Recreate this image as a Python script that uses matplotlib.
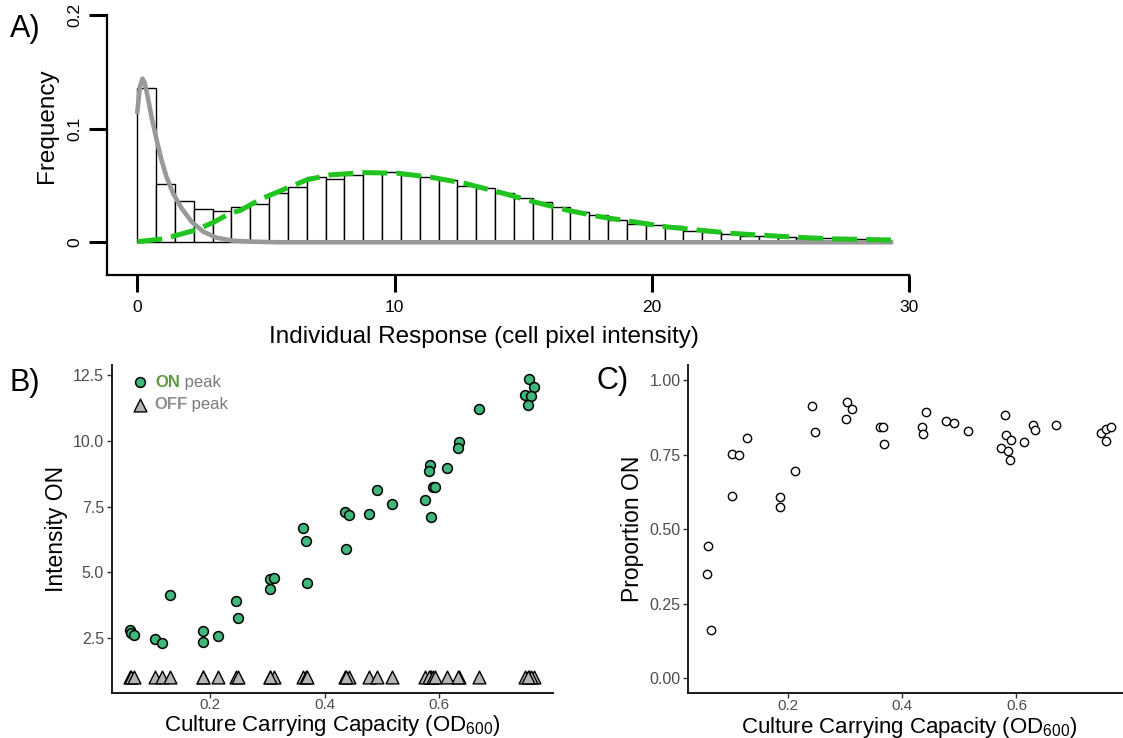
import numpy as np
import matplotlib
matplotlib.use("Agg")
import matplotlib.pyplot as plt

plt.rcParams['font.family'] = ['Liberation Sans', 'DejaVu Sans']
plt.rcParams['mathtext.fontset'] = 'custom'
plt.rcParams['mathtext.rm'] = 'Liberation Sans'
plt.rcParams['mathtext.default'] = 'regular'

# --- A) histogram of single-cell intensities with the two fitted peaks
bin_width = 0.732
freq = [0.136, 0.0513, 0.0363, 0.0295, 0.0274, 0.0307, 0.0336, 0.043, 0.049, 0.057,
        0.056, 0.059, 0.062, 0.062, 0.0593, 0.0578, 0.0549, 0.0496, 0.0475, 0.0436,
        0.0386, 0.0351, 0.031, 0.0263, 0.0239, 0.0195, 0.0159, 0.015, 0.0142, 0.0097,
        0.0091, 0.0071, 0.0058, 0.0055, 0.0042, 0.004, 0.004, 0.003, 0.0027, 0.0025]

off_fit_x = [0.0, 0.1, 0.2, 0.29, 0.42, 0.55, 0.75, 0.94, 1.13, 1.39, 1.72, 2.11,
             2.56, 3.08, 3.72, 4.5, 5.5, 29.3]
off_fit_y = [0.115, 0.137, 0.144, 0.140, 0.126, 0.1105, 0.090, 0.0724, 0.0577, 0.0431,
             0.0299, 0.0181, 0.0093, 0.004, 0.0014, 0.0005, 0.0, 0.0]

on_fit_x = [0.0, 1.0, 1.5, 2.3, 3.0, 3.6, 4.0, 4.8, 5.8, 6.6, 7.5, 8.8, 10.1, 11.4,
            12.7, 14.0, 15.4, 16.7, 18.0, 19.3, 20.6, 21.9, 23.2, 24.5, 25.8, 27.1,
            28.4, 29.3]
on_fit_y = [0.0005, 0.003, 0.006, 0.011, 0.018, 0.0255, 0.028, 0.038, 0.0475, 0.055,
            0.0593, 0.0613, 0.0608, 0.0573, 0.052, 0.0445, 0.0357, 0.0283, 0.0224,
            0.018, 0.0135, 0.0106, 0.0077, 0.0059, 0.0042, 0.003, 0.0024, 0.002]

# --- B) peak intensities vs carrying capacity
od_b = [0.060, 0.063, 0.068, 0.104, 0.117, 0.131, 0.188, 0.188, 0.214, 0.245,
        0.249, 0.304, 0.312, 0.304, 0.363, 0.367, 0.369, 0.436, 0.443, 0.437,
        0.478, 0.492, 0.517, 0.575, 0.586, 0.584, 0.583, 0.589, 0.592, 0.614,
        0.634, 0.632, 0.670, 0.757, 0.766, 0.749, 0.760, 0.755]
on_peak = [2.78, 2.66, 2.62, 2.44, 2.29, 4.14, 2.77, 2.35, 2.56, 3.89,
           3.25, 4.73, 4.77, 4.37, 6.68, 6.19, 4.58, 7.31, 7.16, 5.87,
           7.22, 8.15, 7.58, 7.76, 7.10, 9.09, 8.86, 8.24, 8.23, 8.98,
           9.96, 9.73, 11.22, 12.36, 12.06, 11.76, 11.70, 11.36]
off_peak = [1.0, 1.0, 1.0, 1.0, 1.0, 1.0, 1.0, 1.0, 1.0, 1.0,
            1.0, 1.0, 1.0, 1.0, 1.0, 1.0, 1.0, 1.0, 1.0, 1.0,
            1.0, 1.0, 1.0, 1.0, 1.0, 1.0, 1.0, 1.0, 1.0, 1.0,
            1.0, 1.0, 1.0, 1.0, 1.0, 1.0, 1.0, 1.0]

# --- C) proportion of cells in the ON state
od_c = [0.0588, 0.0581, 0.0646, 0.1009, 0.1142, 0.1009, 0.1277, 0.1855, 0.1855, 0.2117,
        0.2415, 0.2473, 0.3023, 0.3116, 0.301, 0.3606, 0.3653, 0.3676, 0.4412, 0.4336,
        0.4354, 0.4774, 0.4907, 0.5152, 0.5807, 0.5825, 0.5912, 0.5737, 0.5853, 0.5883,
        0.6128, 0.6291, 0.632, 0.6688, 0.7489, 0.7564, 0.7652, 0.7576]
prop_on = [0.4435, 0.349, 0.161, 0.751, 0.748, 0.611, 0.807, 0.608, 0.574, 0.695,
           0.913, 0.826, 0.927, 0.904, 0.868, 0.842, 0.842, 0.784, 0.894, 0.842,
           0.820, 0.863, 0.857, 0.829, 0.883, 0.816, 0.798, 0.771, 0.762, 0.732,
           0.792, 0.849, 0.833, 0.850, 0.823, 0.835, 0.842, 0.796]

green_fill = '#40b77a'
W, H = 1123, 738
fig = plt.figure(figsize=(W / 100, H / 100), dpi=100)

# ---------------- panel A ----------------
axA = fig.add_axes([107 / W, 1 - 275 / H, 802 / W, 260 / H])
lefts = np.arange(len(freq)) * bin_width
axA.bar(lefts, freq, width=bin_width, align='edge', color='white',
        edgecolor='black', linewidth=1.0, zorder=1)
axA.plot(off_fit_x, off_fit_y, color='#999999', lw=3.3, zorder=2)
axA.plot(on_fit_x, on_fit_y, color='#1fc41f', lw=3.6, dashes=(5, 1.8), zorder=3)
axA.set_xlim(-1.18, 30)
axA.set_ylim(-0.0288, 0.2)
for s in ['top', 'right']:
    axA.spines[s].set_visible(False)
for s in ['left', 'bottom']:
    axA.spines[s].set_linewidth(1.6)
axA.set_xticks([0, 10, 20, 30])
axA.set_xticklabels(['0', '10', '20', '30'], fontsize=12.5)
axA.set_yticks([0, 0.1, 0.2])
axA.set_yticklabels(['0', '0.1', '0.2'], fontsize=12.5, rotation=90, va='center')
axA.tick_params(axis='x', length=12, width=2.2, pad=6)
axA.tick_params(axis='y', length=13, width=2.2, pad=5)

fig.text(47 / W, 1 - 126 / H, 'Frequency', rotation=90, ha='center', va='center',
         fontsize=17.5)
fig.text(484 / W, 1 - 343 / H, 'Individual Response (cell pixel intensity)',
         ha='center', va='baseline', fontsize=17.5)
fig.text(10 / W, 1 - 37 / H, 'A)', ha='left', va='baseline', fontsize=22)

# ---------------- panel B ----------------
tick_grey = '#4d4d4d'
axB = fig.add_axes([111.7 / W, 1 - 692.7 / H, 441.6 / W, 327.7 / H])
axB.scatter(od_b, off_peak, marker='^', s=85, c='#b4b4b4', edgecolors='black',
            linewidths=1.0, zorder=3)
axB.scatter(od_b, on_peak, marker='o', s=50, c=green_fill, edgecolors='black',
            linewidths=1.1, zorder=4)
axB.set_xlim(0.0286, 0.799)
axB.set_ylim(0.4, 12.9)
axB.set_xticks([0.2, 0.4, 0.6])
axB.set_xticklabels(['0.2', '0.4', '0.6'])
axB.set_yticks([2.5, 5.0, 7.5, 10.0, 12.5])
axB.set_yticklabels(['2.5', '5.0', '7.5', '10.0', '12.5'])

# legend drawn by hand so the keyword can carry its own colour
axB.scatter([0.064], [0.948], transform=axB.transAxes, marker='o', s=50,
            c=green_fill, edgecolors='black', linewidths=1.1, clip_on=False)
axB.scatter([0.064], [0.878], transform=axB.transAxes, marker='^', s=85,
            c='#b4b4b4', edgecolors='black', linewidths=1.0, clip_on=False)
t_on = axB.text(0.098, 0.948, 'ON', transform=axB.transAxes, color='#5e9a3e',
                fontweight='bold', fontsize=12, ha='left', va='center')
axB.annotate(' peak', xy=(1, 0.5), xycoords=t_on, ha='left', va='center',
             color='#7a7a7a', fontsize=12)
t_off = axB.text(0.096, 0.878, 'OFF', transform=axB.transAxes, color='#8e8e8e',
                 fontweight='bold', fontsize=12, ha='left', va='center')
axB.annotate(' peak', xy=(1, 0.5), xycoords=t_off, ha='left', va='center',
             color='#7a7a7a', fontsize=12)

fig.text(57 / W, 1 - 529 / H, 'Intensity ON', rotation=90, ha='center', va='center',
         fontsize=16.5)
fig.text(332 / W, 1 - 731 / H, 'Culture Carrying Capacity (OD$_{600}$)',
         ha='center', va='baseline', fontsize=16)
fig.text(10 / W, 1 - 391 / H, 'B)', ha='left', va='baseline', fontsize=22)

# ---------------- panel C ----------------
axC = fig.add_axes([688.3 / W, 1 - 693.3 / H, 441.7 / W, 328.3 / H])
axC.scatter(od_c, prop_on, marker='o', s=36, c='white', edgecolors='black',
            linewidths=1.0, zorder=3)
axC.set_xlim(0.0249, 0.799)
axC.set_ylim(-0.05, 1.05)
axC.set_xticks([0.2, 0.4, 0.6])
axC.set_xticklabels(['0.2', '0.4', '0.6'])
axC.set_yticks([0, 0.25, 0.5, 0.75, 1.0])
axC.set_yticklabels(['0.00', '0.25', '0.50', '0.75', '1.00'])

fig.text(632 / W, 1 - 529 / H, 'Proportion ON', rotation=90, ha='center', va='center',
         fontsize=16.5)
fig.text(909 / W, 1 - 733 / H, 'Culture Carrying Capacity (OD$_{600}$)',
         ha='center', va='baseline', fontsize=16)
fig.text(597 / W, 1 - 389 / H, 'C)', ha='left', va='baseline', fontsize=22)

for ax in (axB, axC):
    for s in ['top', 'right']:
        ax.spines[s].set_visible(False)
    for s in ['left', 'bottom']:
        ax.spines[s].set_linewidth(1.4)
        ax.spines[s].set_color('#1a1a1a')
    ax.tick_params(length=3.6, width=1.0, color='#333333', labelcolor=tick_grey,
                   labelsize=11.5, pad=2)
    ax.tick_params(axis='x', pad=0.5, labelsize=11)

fig.savefig('out.png', dpi=100)
